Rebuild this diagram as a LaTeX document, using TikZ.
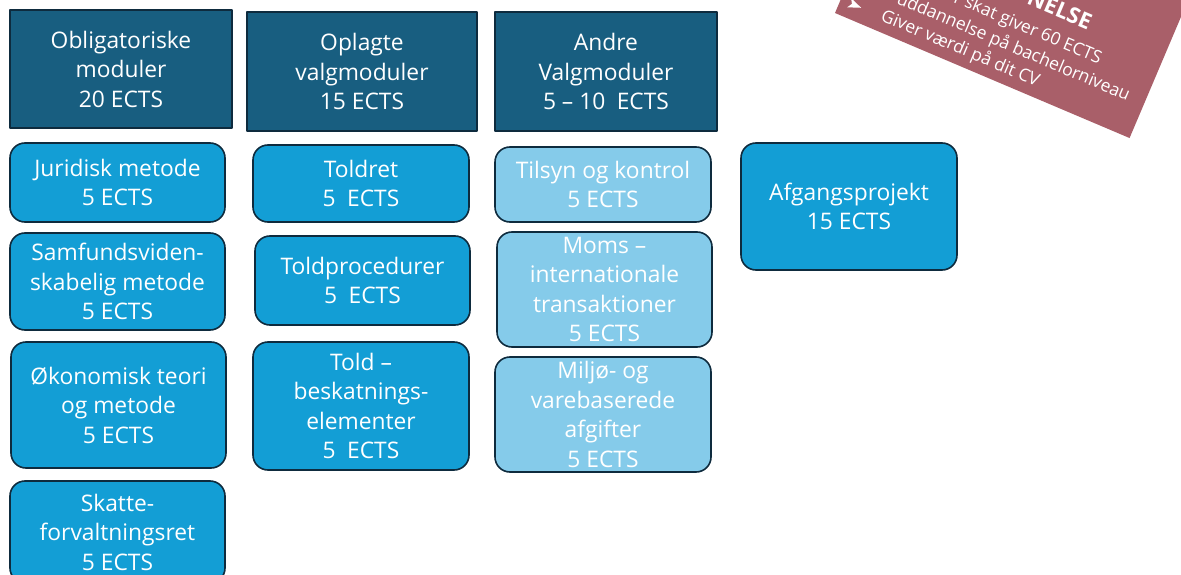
\documentclass[tikz,border=0pt]{standalone}
\usepackage{fontspec}
\setmainfont{Open Sans}
\definecolor{headblue}{RGB}{24,94,128}
\definecolor{edgeblue}{RGB}{14,43,62}
\definecolor{modblue}{RGB}{19,158,213}
\definecolor{lightblue}{RGB}{133,203,234}
\definecolor{bannerred}{RGB}{169,95,105}
\begin{document}
\begin{tikzpicture}[x=1pt, y=-1pt, line join=round, font=\fontsize{22.8}{29.5}\selectfont]
			\tikzset{head/.style={draw=edgeblue, line width=1.6pt, fill=headblue, text=white, align=center, inner sep=0pt},
				modul/.style={head, fill=modblue, rounded corners=15pt, minimum width=215},
				valg/.style={modul, fill=lightblue},
				bantext/.style={text=white, inner sep=0pt, font=\fontsize{17.5}{20}\selectfont}}
			\useasboundingbox (0,0) rectangle (1181,575);
			\node[head, minimum width=222, minimum height=118] (obl) at (121,69) {Obligatoriske\\moduler\\20 ECTS};
			\node[head, minimum width=230, minimum height=119] (opl) at (362,71.5) {Oplagte\\valgmoduler\\15 ECTS};
			\node[head, minimum width=222, minimum height=119] (andre) at (606,71.5) {Andre\\Valgmoduler\\5 – 10\enspace ECTS};
			\node[modul, minimum height=79] (jur) at (117.5,182.5) {Juridisk metode\\5 ECTS};
			\node[modul, minimum height=97] (sam) at (117.5,281.5) {Samfundsviden-\\skabelig metode\\5 ECTS};
			\node[modul, minimum height=126] (oko) at (118.5,405) {Økonomisk teori\\og metode\\5 ECTS};
			\node[modul, minimum height=102] (skat) at (117.5,532) {Skatte-\\forvaltningsret\\5 ECTS};
			\node[modul, minimum width=216, minimum height=77] (toldret) at (361,183.5) {Toldret\\5\enspace ECTS};
			\node[modul, minimum height=89] (proc) at (362.5,280.5) {Toldprocedurer\\5\enspace ECTS};
			\node[modul, minimum width=216, minimum height=128] (told) at (361,406) {Told –\\beskatnings-\\elementer\\5\enspace ECTS};
			\node[valg, minimum width=216, minimum height=75] (tilsyn) at (603,184.5) {Tilsyn og kontrol\\5 ECTS};
			\node[valg, minimum height=115] (moms) at (604.5,289.5) {Moms –\\internationale\\transaktioner\\5 ECTS};
			\node[valg, minimum width=216, minimum height=115] (miljo) at (603,414.5) {Miljø- og\\varebaserede\\afgifter\\5 ECTS};
			\node[modul, minimum width=216, minimum height=127] (afg) at (849,206.5) {Afgangsprojekt\\15 ECTS};
			\begin{scope}
				\clip (0,0) rectangle (1181,575);
				\begin{scope}[shift={(835,13)}, rotate=-23, transform shape]
					\fill[bannerred] (0,0) rectangle (320,-170);
					\fill[white] (9,-10)--(22,-15)--(9,-20)--(12,-15)--cycle;
					\node[bantext, anchor=base west] (cv) at (44,-11) {Giver værdi på dit CV};
					\node[bantext, anchor=base west] (niveau) at (52,-33) {uddannelse på bachelorniveau};
					\node[bantext, anchor=base west] (ects) at (104,-56) {r skat giver 60 ECTS};
					\node[bantext, anchor=base west, font=\fontsize{22}{24}\bfseries] (titel) at (172,-83) {NELSE};
				\end{scope}
			\end{scope}
		\end{tikzpicture}
\end{document}
